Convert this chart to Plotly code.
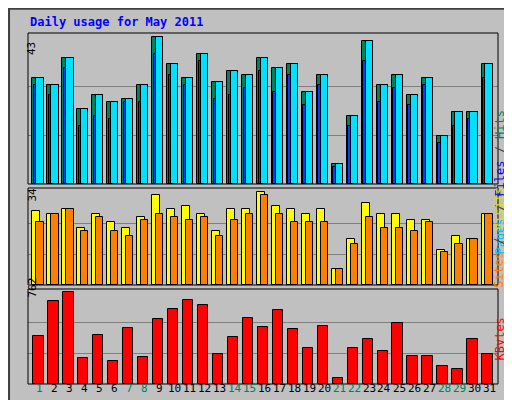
import plotly.graph_objects as go

days = list(range(1, 32))
hits = [31,29,37,22,26,24,25,29,43,35,31,38,30,33,32,37,34,35,27,32,6,20,42,29,32,26,31,14,21,21,35]
files = hits[:]
pages = [29,26,34,17,20,19,24,24,38,32,29,36,25,26,28,33,27,32,23,29,5,17,36,24,28,23,29,12,17,19,31]
visits = [27,26,28,21,26,23,21,25,33,28,29,26,20,28,28,34,29,28,26,28,6,17,30,26,26,24,24,13,18,17,26]
sites = [23,26,28,20,25,20,18,24,26,25,24,25,18,24,26,33,26,23,23,23,6,15,25,21,21,20,23,12,15,17,26]
kbytes = [395,687,762,220,403,195,462,228,537,620,695,654,253,387,545,470,612,453,303,478,53,295,370,270,503,236,236,153,128,370,253]
weekend = {1,7,8,14,15,21,22,28,29}

fig = go.Figure()
ln = dict(color="black", width=1)
def bar(y, color, off, w, ax):
    fig.add_trace(go.Bar(x=days, y=y, marker=dict(color=color, line=ln), offset=off, width=w,
                         xaxis="x", yaxis=ax, showlegend=False, hoverinfo="y"))

bar(hits, "#00805c", -0.5, 0.74, "y")
bar(files, "#00e0ff", -0.24, 0.48, "y")
bar(pages, "#0040ff", -0.4, 0.16, "y")
bar(visits, "#ffff00", -0.5, 0.53, "y2")
bar(sites, "#ff8000", -0.24, 0.48, "y2")
bar(kbytes, "#ff0000", -0.45, 0.69, "y3")

grid = dict(showgrid=True, gridcolor="#808080", gridwidth=1, showticklabels=False, zeroline=False, ticks="")
fig.update_layout(
    width=512, height=400, margin=dict(l=0, r=0, t=0, b=0),
    paper_bgcolor="#c0c0c0", plot_bgcolor="#c0c0c0", barmode="overlay",
    font=dict(family="DejaVu Sans Mono", size=11, color="black"),
    xaxis=dict(domain=[20/512, 490/512], range=[0.2, 31.6], showticklabels=False,
               showgrid=False, zeroline=False, ticks="", anchor="y3", automargin=False),
    yaxis=dict(domain=[0.56, 0.9375], range=[0, 44.2], tickvals=[43/3, 86/3], anchor="x", **grid),
    yaxis2=dict(domain=[0.3075, 0.55], range=[0, 35.6], tickvals=[34/3, 68/3], anchor="x", **grid),
    yaxis3=dict(domain=[0.06, 0.2975], range=[0, 789], tickvals=[254, 508], anchor="x", **grid),
    bargap=0,
)
shapes = [dict(type="rect", xref="paper", yref="paper", x0=0.002, x1=0.998, y0=0.002, y1=0.998,
               line=dict(color="#404040", width=2))]
for y0, y1 in [(0.56, 0.9375), (0.3075, 0.55), (0.06, 0.2975)]:
    shapes.append(dict(type="rect", xref="paper", yref="paper", x0=20/512, x1=490/512, y0=y0, y1=y1,
                       line=dict(color="black", width=1)))
fig.update_layout(shapes=shapes)

ann = [
    dict(text="<b>Daily usage for May 2011</b>", xref="paper", x=20/512, y=1-14/400, xanchor="left", yanchor="middle",
         font=dict(color="#0000ff", size=12)),
    dict(text="43", xref="paper", x=15/512, y=1-32/400, textangle=-90),
    dict(text="34", xref="paper", x=15/512, y=1-187/400, textangle=-90),
    dict(text="762", xref="paper", x=15/512, y=1-292/400, textangle=-90),
    dict(text="<span style='color:#00c0ff'>Pages</span> / <span style='color:#0000ff'>Files</span> / <span style='color:#00805c'>Hits</span>",
         xref="paper", x=500/512, y=1-100/400, textangle=-90, font=dict(color="#404040", size=12)),
    dict(text="<span style='color:#ff8000'>Sites</span> / <span style='color:#e0e000'>Visits</span>",
         xref="paper", x=500/512, y=1-230/400, textangle=-90, font=dict(color="#404040", size=12)),
    dict(text="KBytes", xref="paper", x=500/512, y=1-355/400, textangle=-90, font=dict(color="#ff0000", size=12)),
]
for d in days:
    ann.append(dict(text=str(d), xref="x", x=d, y=1-389/400,
                    font=dict(color="#00805c" if d in weekend else "black", size=11)))
for a in ann:
    a.update(yref="paper", showarrow=False)
    a.setdefault("font", dict(color="black", size=11))
fig.update_layout(annotations=ann)
fig.write_html("out.html")
